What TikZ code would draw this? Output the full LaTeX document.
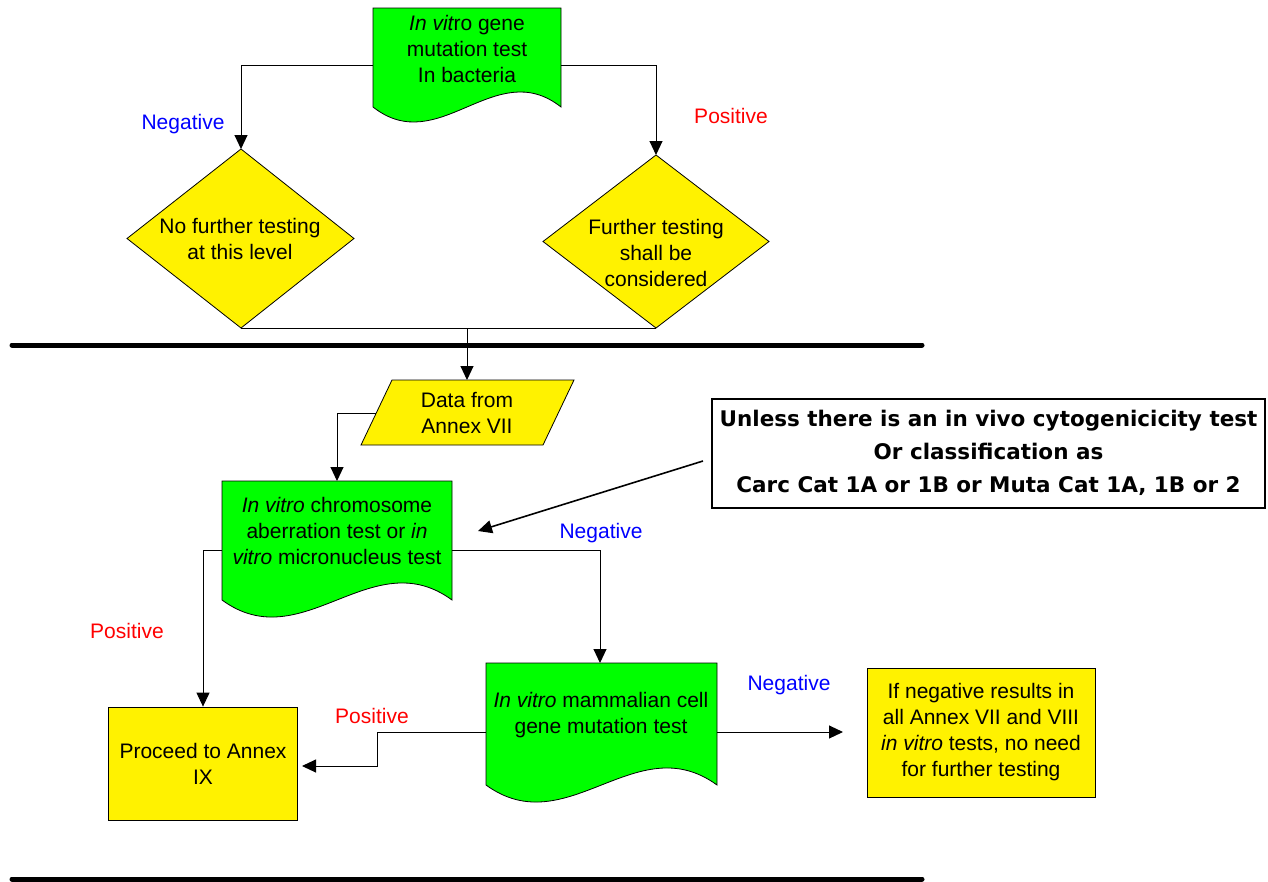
\documentclass[tikz,border=0pt]{standalone}
\usepackage{fontspec}
\setmainfont{Liberation Sans}
\newfontfamily\callfont{DejaVu Sans}
\usetikzlibrary{arrows.meta}
\begin{document}
\begin{tikzpicture}[x=1pt,y=-1pt,
  conn/.style={draw=black, line width=1pt, -{Triangle[width=13pt,length=14pt]}},
  plain/.style={draw=black, line width=1pt},
  gshape/.style={fill=green, draw=black, line width=0.8pt},
  yshape/.style={fill=yellow, draw=black, line width=0.8pt},
  txt/.style={align=center, font=\fontsize{21}{26}\selectfont, inner sep=0pt},
  neglab/.style={text=blue, font=\fontsize{21}{26}\selectfont, inner sep=0pt},
  poslab/.style={text=red, font=\fontsize{21}{26}\selectfont, inner sep=0pt},
  sepline/.style={draw=black, line width=5pt, line cap=round}]
\useasboundingbox (0,0) rectangle (1268,881);

% ---- top document shape
\draw[gshape] (373,8) -- (561,8) -- (561,107) .. controls (495,55) and (439,159) .. (373,107) -- cycle;
\node[txt] (doc1) at (467,49) {\itshape In vit\upshape ro gene\\mutation test\\In bacteria};
\coordinate (doc1W) at (373,65);
\coordinate (doc1E) at (561,65);

% ---- diamonds
\draw[yshape] (241,149) -- (354,238.5) -- (241,328) -- (127,238.5) -- cycle;
\node[txt] (dia1) at (240,238.5) {No further testing\\at this level};
\coordinate (d1top) at (241,149);
\coordinate (d1bot) at (241,328);

\draw[yshape] (656,155) -- (769,241.5) -- (656,328) -- (543,241.5) -- cycle;
\node[txt] (dia2) at (656,253) {Further testing\\shall be\\considered};
\coordinate (d2top) at (656,155);
\coordinate (d2bot) at (656,328);

\node[neglab] (neg1) at (183,124) {Negative};
\node[poslab] (pos1) at (731,116) {Positive};

\draw[conn] (doc1W) -| (d1top);
\draw[conn] (doc1E) -| (d2top);
\draw[plain] (d1bot) -- (d2bot);
\coordinate (join) at (467,328);

% ---- separator lines
\draw[sepline] (12,345) -- (922,345);
\draw[sepline] (12,879) -- (922,879);

% ---- data parallelogram
\draw[yshape] (392,380) -- (574,380) -- (543,445) -- (361,445) -- cycle;
\node[txt] (data) at (467,412.5) {Data from\\Annex VII};
\coordinate (dataN) at (467,380);
\coordinate (dataW) at (376,413);
\draw[conn] (join) -- (dataN);

% ---- chromosome document shape
\draw[gshape] (222,481) -- (452,481) -- (452,600) .. controls (371.5,541) and (302.5,659) .. (222,600) -- cycle;
\node[txt] (doc2) at (337,531) {\itshape In vitro\upshape\ chromosome\\aberration test or \itshape in\\\itshape vitro\upshape\ micronucleus test};
\coordinate (doc2N) at (337,481);
\coordinate (doc2W) at (222,550);
\coordinate (doc2E) at (452,550);
\draw[conn] (dataW) -| (doc2N);

% ---- callout
\node[draw=black, line width=2pt, minimum width=553pt, minimum height=109pt, inner sep=0pt, align=center,
      font=\callfont\bfseries\fontsize{21.5}{33}\selectfont] (call) at (988.5,453)
  {Unless there is an in vivo cytogenicicity test\\Or classification as\\Carc Cat 1A or 1B or Muta Cat 1A, 1B or 2};
\coordinate (callTail) at (703,461);
\coordinate (callTip) at (478,531);
\draw[conn, line width=1.6pt] (callTail) -- (callTip);

% ---- mammalian document shape
\draw[gshape] (486,663) -- (717,663) -- (717,785) .. controls (636,726) and (567,844) .. (486,785) -- cycle;
\node[txt] (doc3) at (601,715.5) {\itshape In vitro\upshape\ mammalian cell\\gene mutation test};
\coordinate (doc3N) at (600,663);
\coordinate (doc3W) at (486,732);
\coordinate (doc3E) at (717,732);

% ---- result boxes
\node[yshape, txt, minimum width=189pt, minimum height=113pt] (proceed) at (203,763.5) {Proceed to Annex\\IX};
\node[yshape, txt, minimum width=228pt, minimum height=129pt] (final) at (981,732.5)
  {If negative results in\\all Annex VII and VIII\\\itshape in vitro\upshape\ tests, no need\\for further testing};

\node[neglab] (neg2) at (601,533) {Negative};
\node[poslab] (pos2) at (127,631) {Positive};
\node[poslab] (pos3) at (372,716) {Positive};
\node[neglab] (neg3) at (789,685) {Negative};

\coordinate (procE) at (302,766);
\coordinate (finalW) at (843,732);
\draw[conn] (doc2W) -| (proceed.north);
\draw[conn] (doc2E) -| (doc3N);
\draw[conn] (doc3W) -- (377,732) |- (procE);
\draw[conn] (doc3E) -- (finalW);
\end{tikzpicture}
\end{document}
